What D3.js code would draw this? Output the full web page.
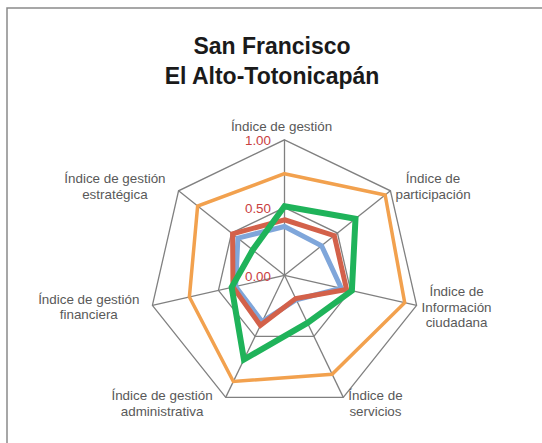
<!DOCTYPE html>
<html>
<head>
<meta charset="utf-8">
<script src="https://cdn.jsdelivr.net/npm/d3@7"></script>
<style>
  body { margin: 0; background: #fff; }
  svg { display: block; }
</style>
</head>
<body>
<svg></svg>
<script>
// axis names (one entry per spoke, split into the lines shown on the chart)
let axisLabels = [
    ["Índice de gestión"],
    ["Índice de", "participación"],
    ["Índice de", "Información", "ciudadana"],
    ["Índice de", "servicios"],
    ["Índice de gestión", "administrativa"],
    ["Índice de gestión", "financiera"],
    ["Índice de gestión", "estratégica"]
]

// series values
let orangeValues = [0.75, 0.95, 0.91, 0.81, 0.87, 0.72, 0.82]
let blueValues   = [0.36, 0.35, 0.43, 0.20, 0.38, 0.37, 0.44]
let redValues    = [0.41, 0.47, 0.47, 0.19, 0.41, 0.39, 0.49]
let greenValues  = [0.51, 0.67, 0.51, 0.39, 0.69, 0.40, 0.30]

let tickValues = [0, 0.5, 1]
let ringValues = [0.5, 1]
let titleLines = ["San Francisco", "El Alto-Totonicapán"]

const width = 542
const height = 443
const cx = 284.5
const cy = 275.3
const radius = 135.5

const svg = d3.select('svg')
    .attr('width', width)
    .attr('height', height)

let rScale = d3.scaleLinear().domain([0, 1]).range([0, radius])
let angleScale = d3.scaleLinear().domain([0, axisLabels.length]).range([0, 2 * Math.PI])

let point = (i, v) => {
    let a = angleScale(i)
    return [cx + Math.sin(a) * rScale(v), cy - Math.cos(a) * rScale(v)]
}

// chart frame (only left and top edges are inside the picture)
svg.append('path')
    .attr('d', 'M7,' + height + ' L7,8 L' + width + ',8')
    .attr('fill', 'none')
    .attr('stroke', '#8a8a8a')
    .attr('stroke-width', 1.5)

// title
svg.append('g')
    .selectAll('text')
    .data(titleLines)
    .enter()
    .append('text')
    .attr('x', 272)
    .attr('y', (d, i) => 54 + i * 30)
    .attr('text-anchor', 'middle')
    .attr('font-family', 'Liberation Sans, Arial, sans-serif')
    .attr('font-weight', 'bold')
    .attr('font-size', 23)
    .attr('fill', '#1a1a1a')
    .text(d => d)

let plot = svg.append('g').attr('transform', 'translate(' + cx + ',' + cy + ')')

// grid rings
let ringLine = d3.lineRadial()
    .angle((d, i) => angleScale(i))
    .radius(d => rScale(d))
    .curve(d3.curveLinearClosed)

plot.selectAll('.ring')
    .data(ringValues)
    .enter()
    .append('path')
    .attr('class', 'ring')
    .attr('d', v => ringLine(axisLabels.map(() => v)))
    .attr('fill', 'none')
    .attr('stroke', '#808080')
    .attr('stroke-width', 1.3)

// spokes
plot.selectAll('.spoke')
    .data(axisLabels)
    .enter()
    .append('line')
    .attr('class', 'spoke')
    .attr('x1', 0)
    .attr('y1', 0)
    .attr('x2', (d, i) => Math.sin(angleScale(i)) * rScale(1))
    .attr('y2', (d, i) => -Math.cos(angleScale(i)) * rScale(1))
    .attr('stroke', '#808080')
    .attr('stroke-width', 1.3)

// series
let series = [
    { values: orangeValues, color: '#f2a14e', w: 3.5 },
    { values: blueValues, color: '#7fa6da', w: 5 },
    { values: redValues, color: '#d3614a', w: 5 },
    { values: greenValues, color: '#1fb35a', w: 6 }
]

let seriesLine = d3.lineRadial()
    .angle((d, i) => angleScale(i))
    .radius(d => rScale(d))
    .curve(d3.curveLinearClosed)

plot.selectAll('.series')
    .data(series)
    .enter()
    .append('path')
    .attr('class', 'series')
    .attr('d', s => seriesLine(s.values))
    .attr('fill', 'none')
    .attr('stroke', s => s.color)
    .attr('stroke-width', s => s.w)
    .attr('stroke-linejoin', 'miter')

// radial tick labels
plot.selectAll('.tick')
    .data(tickValues)
    .enter()
    .append('text')
    .attr('class', 'tick')
    .attr('x', -13.5)
    .attr('y', v => -rScale(v) + 5.5)
    .attr('text-anchor', 'end')
    .attr('font-family', 'Liberation Sans, Arial, sans-serif')
    .attr('font-size', 13.4)
    .attr('fill', '#c9403f')
    .text(v => d3.format('.2f')(v))

// axis labels
const lineH = 15.7
axisLabels.forEach((lines, i) => {
    let a = angleScale(i)
    let ux = Math.sin(a)
    let uy = -Math.cos(a)
    let [vx, vy] = point(i, 1)
    let anchor = 'middle'
    let x = vx - 3
    if (ux > 0.1) { anchor = 'start'; x = vx + 5 }
    if (ux < -0.1) { anchor = 'end'; x = vx - 13 }
    let firstBase
    if (Math.abs(ux) < 0.1) {
        firstBase = vy - 9.3
    } else {
        let mid = vy + uy * 7
        firstBase = mid + 4.5 - (lines.length - 1) * lineH / 2
    }
    let t = svg.append('text')
        .attr('text-anchor', anchor)
        .attr('font-family', 'Liberation Sans, Arial, sans-serif')
        .attr('font-size', 13.4)
        .attr('fill', '#595959')
    lines.forEach((ln, j) => {
        t.append('tspan')
            .attr('x', x)
            .attr('y', firstBase + j * lineH)
            .text(ln)
    })
    // multi-line labels are centred on their widest line
    if (lines.length > 1) {
        t.attr('text-anchor', 'middle')
        let widths = []
        t.selectAll('tspan').each(function () { widths.push(this.getComputedTextLength()) })
        let wmax = d3.max(widths)
        let centre = anchor === 'start' ? x + wmax / 2 : anchor === 'end' ? x - wmax / 2 : x
        t.selectAll('tspan').attr('x', centre)
    }
})
</script>
</body>
</html>
